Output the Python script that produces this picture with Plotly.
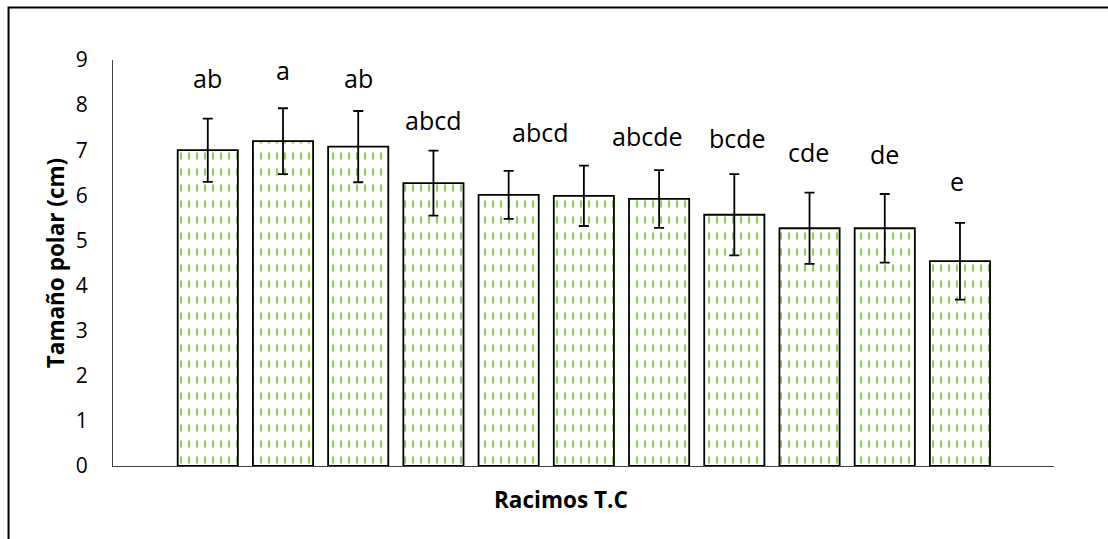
import plotly.graph_objects as go

# Polar size per cluster (cm) with standard deviation
clusters = list(range(11))
tamano_polar = [7.00, 7.20, 7.08, 6.27, 6.01, 5.99, 5.92, 5.57, 5.27, 5.27, 4.54]
desviacion = [0.70, 0.73, 0.79, 0.72, 0.53, 0.67, 0.64, 0.90, 0.79, 0.76, 0.85]

# Significance letters (Tukey groups)
letras = ["ab", "a", "ab", "abcd", "abcd", "abcde", "bcde", "cde", "de", "e"]
letras_x = [0, 1, 2, 3, 4.42, 5.85, 7.04, 7.99, 9.0, 9.96]
letras_y = [8.35, 8.54, 8.36, 7.43, 7.17, 7.08, 7.02, 6.72, 6.67, 6.08]

y_ticks = [0, 1, 2, 3, 4, 5, 6, 7, 8, 9]

FONT = "Open Sans"
GREEN = "#92D050"

fig = go.Figure()

# green vertical stripes
fig.add_trace(go.Bar(
    x=clusters, y=tamano_polar, width=0.8,
    marker=dict(
        color="white",
        line=dict(width=0),
        pattern=dict(shape="|", fgcolor=GREEN, bgcolor="white",
                     size=8, solidity=0.27, fillmode="replace"),
    ),
    hoverinfo="skip", showlegend=False,
))

# white horizontal bands break the stripes into dashes
fig.add_trace(go.Bar(
    x=clusters, y=tamano_polar, width=0.8,
    marker=dict(
        color="white",
        line=dict(width=0),
        pattern=dict(shape="-", fgcolor="white", bgcolor="rgba(255,255,255,0)",
                     size=16, solidity=0.55, fillmode="replace"),
    ),
    hoverinfo="skip", showlegend=False,
))

# bar outline and error bars
fig.add_trace(go.Bar(
    x=clusters, y=tamano_polar, width=0.8,
    marker=dict(color="rgba(255,255,255,0)",
                line=dict(width=1.8, color="black")),
    error_y=dict(type="data", array=desviacion, visible=True,
                 color="black", thickness=1.8, width=5),
    showlegend=False,
))

annotations = []
for lx, ly, txt in zip(letras_x, letras_y, letras):
    annotations.append(dict(
        x=lx, y=ly, xref="x", yref="y", text=txt, showarrow=False,
        yanchor="bottom", yshift=-8,
        font=dict(family=FONT, size=25, color="black"),
    ))

annotations.append(dict(
    x=0.476, y=-0.0837, xref="paper", yref="paper",
    text="<b>Racimos T.C</b>", showarrow=False, yanchor="middle",
    font=dict(family=FONT, size=22.5, color="black"),
))

# outer chart frame
shapes = [dict(
    type="rect", xref="paper", yref="paper",
    x0=-0.111, y0=-0.3, x1=1.1, y1=1.1293,
    line=dict(color="black", width=2), fillcolor="rgba(0,0,0,0)",
    layer="above",
)]

fig.update_layout(
    width=1108, height=539,
    margin=dict(l=113, r=54, t=60, b=73, pad=0),
    paper_bgcolor="white", plot_bgcolor="white",
    barmode="overlay",
    bargap=0.2,
    font=dict(family=FONT, color="black"),
    xaxis=dict(
        range=[-1.26, 11.25], showgrid=False, zeroline=False,
        showline=True, linecolor="#404040", linewidth=1,
        showticklabels=False, ticks="",
    ),
    yaxis=dict(
        range=[0, 9], tickvals=y_ticks, showgrid=False, zeroline=False,
        showline=True, linecolor="#404040", linewidth=1,
        ticks="outside", ticklen=20, tickcolor="rgba(0,0,0,0)",
        tickfont=dict(family=FONT, size=21, color="black"),
        title=dict(text="<b>Tamaño polar (cm)</b>", standoff=4,
                   font=dict(family=FONT, size=22.5, color="black")),
    ),
    annotations=annotations,
    shapes=shapes,
)

fig.write_html("out.html")
